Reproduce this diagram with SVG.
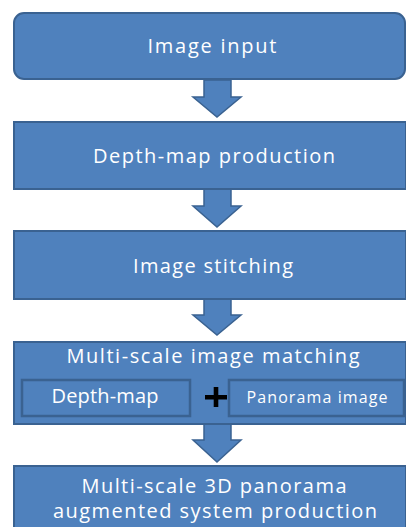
<svg xmlns="http://www.w3.org/2000/svg" width="406" height="527" viewBox="0 0 406 527">
<style>
.box{fill:#4F81BD;stroke:#3A6291;stroke-width:2}
.inner{fill:#4F81BD;stroke:#3A6291;stroke-width:2.5}
.arrow{fill:#4F81BD;stroke:#3A6291;stroke-width:1.5;stroke-linejoin:miter}
text{font-family:"Open Sans","Noto Sans",sans-serif;fill:#FFFFFF;text-anchor:middle}
.t{font-size:20px}
.s{font-size:16px}
</style>
<rect width="406" height="527" fill="#FFFFFF"/>
<g id="connectors">
<path class="arrow" d="M204,80 L231,80 L231,97 L241,97 L217,117 L193,97 L204,97 Z"/>
<path class="arrow" d="M204,189 L231,189 L231,206 L241,206 L217,227 L193,206 L204,206 Z"/>
<path class="arrow" d="M204,299 L231,299 L231,315 L241,315 L217,335 L193,315 L204,315 Z"/>
<path class="arrow" d="M204,424 L231,424 L231,440 L241,440 L217,462 L193,440 L204,440 Z"/>
</g>
<g id="n1">
<rect class="box" x="14" y="13" width="391" height="66" rx="10"/>
<text class="t" x="212" y="53" textLength="129" lengthAdjust="spacing">Image input</text>
</g>
<g id="n2">
<rect class="box" x="14" y="122" width="392" height="67"/>
<text class="t" x="214" y="163" textLength="242" lengthAdjust="spacing">Depth-map production</text>
</g>
<g id="n3">
<rect class="box" x="14" y="231" width="392" height="68"/>
<text class="t" x="213" y="273" textLength="160" lengthAdjust="spacing">Image stitching</text>
</g>
<g id="n4">
<rect class="box" x="14" y="342" width="392" height="82"/>
<text class="t" x="213" y="363" textLength="293" lengthAdjust="spacing">Multi-scale image matching</text>
<g id="n4a">
<rect class="inner" x="22" y="380" width="168" height="36"/>
<text class="t" x="105" y="403" textLength="107" lengthAdjust="spacing">Depth-map</text>
</g>
<path d="M205,395 L227,395 L227,399.5 L205,399.5 Z M213.7,387 L218.3,387 L218.3,407 L213.7,407 Z" fill="#000000"/>
<g id="n4b">
<rect class="inner" x="229" y="380" width="175" height="36"/>
<text class="s" x="317" y="403" textLength="141" lengthAdjust="spacing">Panorama image</text>
</g>
</g>
<g id="n5">
<rect class="box" x="14" y="466" width="392" height="70"/>
<text class="t" x="214" y="493" textLength="265" lengthAdjust="spacing">Multi-scale 3D panorama</text>
<text class="t" x="215" y="518" textLength="324" lengthAdjust="spacing">augmented system production</text>
</g>
</svg>
